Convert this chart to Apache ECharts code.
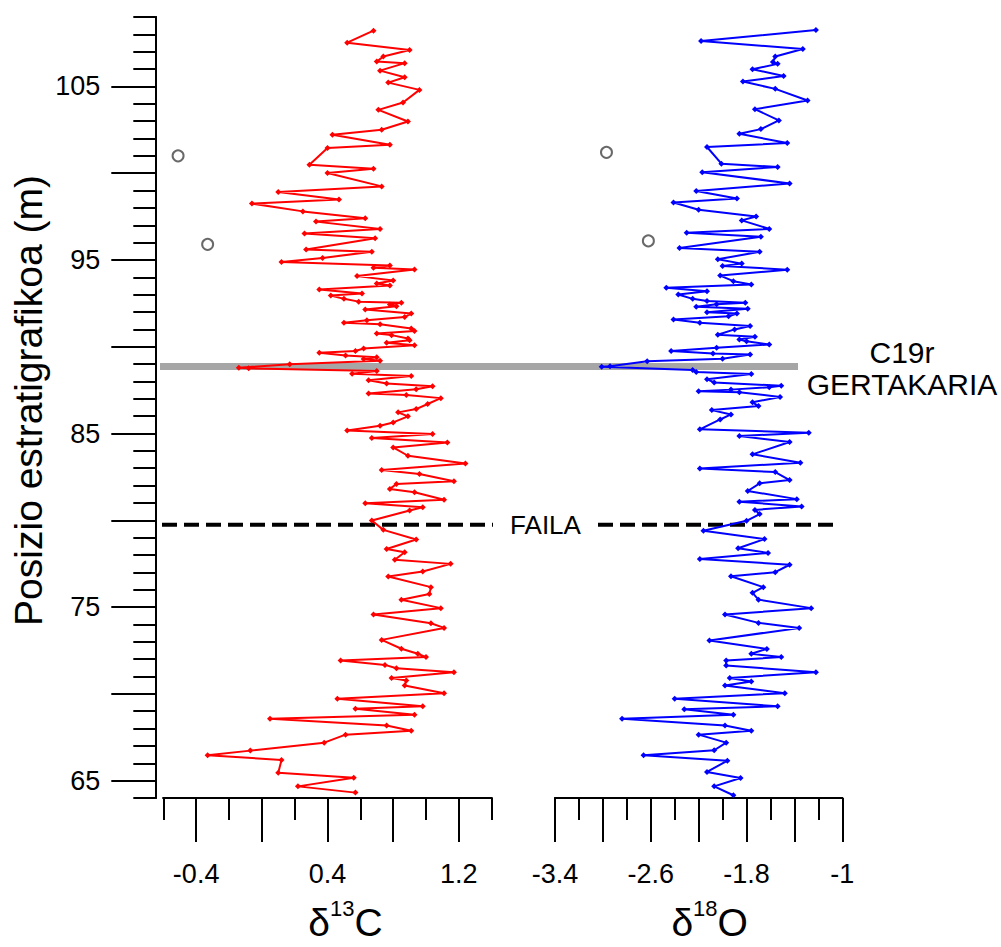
<!DOCTYPE html>
<html><head><meta charset="utf-8">
<script src="https://cdn.jsdelivr.net/npm/echarts@6/dist/echarts.min.js"></script>
<style>html,body{margin:0;padding:0;background:#fff}#c{width:1001px;height:947px}</style>
</head><body><div id="c"></div>
<script>
// ---- data ----
const depthC = [108.21,107.52,107.10,106.72,106.43,106.34,105.91,105.53,105.22,104.80,104.07,103.65,102.98,102.50,102.21,101.64,101.45,100.49,100.26,100.01,99.24,98.92,98.48,98.25,97.80,97.40,97.21,96.79,96.52,96.25,95.60,95.47,95.12,94.89,94.68,94.55,94.45,94.07,93.82,93.65,93.53,93.30,93.07,92.95,92.76,92.60,92.53,92.43,92.33,92.14,91.91,91.71,91.53,91.38,91.30,91.05,90.91,90.76,90.67,90.48,90.38,90.23,90.09,89.90,89.76,89.65,89.50,89.40,89.30,89.20,88.99,88.79,88.76,88.60,88.45,88.32,88.07,87.88,87.72,87.55,87.30,87.22,87.04,86.70,86.41,86.22,85.99,85.64,85.45,85.17,84.97,84.74,84.49,84.20,83.72,83.28,82.90,82.67,82.25,82.09,81.81,81.62,81.18,80.98,80.75,80.57,79.99,79.45,78.89,78.35,78.16,77.73,77.49,77.05,76.76,76.15,75.76,75.42,74.94,74.57,74.07,73.80,73.11,72.60,72.31,72.12,71.92,71.67,71.48,71.25,70.91,70.77,70.48,70.04,69.72,69.28,69.14,68.80,68.57,68.18,67.88,67.65,67.19,66.73,66.46,66.19,65.46,65.17,64.67,64.31];
const valuesC = [0.68,0.52,0.90,0.74,0.70,0.87,0.72,0.87,0.77,0.96,0.86,0.71,0.89,0.73,0.43,0.78,0.40,0.29,0.68,0.40,0.73,0.10,0.47,-0.06,0.25,0.63,0.33,0.72,0.26,0.69,0.27,0.67,0.37,0.12,0.78,0.68,0.93,0.58,0.80,0.70,0.78,0.35,0.61,0.42,0.50,0.59,0.85,0.78,0.82,0.63,0.91,0.87,0.64,0.50,0.72,0.91,0.93,0.70,0.79,0.89,0.90,0.76,0.93,0.62,0.57,0.35,0.51,0.70,0.62,0.72,0.17,-0.14,-0.08,0.70,0.55,0.91,0.65,0.76,1.04,0.94,0.65,0.88,1.09,1.01,0.94,0.83,0.89,0.80,0.72,0.52,1.04,0.67,1.13,0.80,0.89,1.24,0.73,0.96,1.17,0.82,0.78,0.93,1.11,0.63,0.98,0.90,0.67,0.74,0.94,0.76,0.87,0.81,1.15,0.98,0.77,1.03,1.02,0.85,1.09,0.68,1.03,1.11,0.73,0.85,0.95,1.00,0.48,0.75,0.82,1.17,0.79,0.88,0.87,1.11,0.46,0.98,0.57,0.93,0.05,0.76,0.91,0.51,0.38,-0.07,-0.33,0.12,0.10,0.56,0.22,0.57];
const depthO = [108.25,107.62,107.16,106.72,106.40,106.30,105.99,105.60,105.28,104.86,104.19,103.69,103.04,102.54,102.27,101.74,101.51,100.55,100.36,100.06,99.41,98.97,98.54,98.31,97.89,97.51,97.28,96.79,96.57,96.34,95.69,95.47,95.04,94.79,94.66,94.44,94.10,93.78,93.59,93.40,93.20,93.01,92.76,92.63,92.53,92.45,92.30,92.19,91.99,91.92,91.76,91.57,91.38,91.19,91.00,90.69,90.57,90.42,90.32,90.13,89.94,89.75,89.61,89.56,89.31,89.17,88.88,88.85,88.66,88.55,88.43,88.13,87.94,87.75,87.67,87.53,87.43,87.38,87.11,86.80,86.58,86.35,86.10,85.81,85.24,85.05,84.86,84.51,83.80,83.32,82.98,82.78,82.32,82.13,81.69,81.22,81.07,80.80,80.60,80.36,79.97,79.40,78.92,78.39,78.12,77.77,77.44,77.01,76.78,76.15,75.82,75.43,74.94,74.57,74.09,73.80,73.07,72.59,72.31,72.12,71.92,71.63,71.25,70.91,70.71,70.48,70.04,69.72,69.28,69.11,68.80,68.57,68.18,67.88,67.65,67.19,66.75,66.46,66.15,65.50,65.15,64.67,64.16];
const valuesO = [-1.22,-2.18,-1.33,-1.56,-1.58,-1.54,-1.75,-1.49,-1.83,-1.56,-1.29,-1.73,-1.53,-1.68,-1.86,-1.46,-2.13,-2.01,-1.54,-2.17,-1.44,-2.22,-1.88,-2.41,-2.20,-1.72,-1.84,-1.61,-2.30,-1.68,-2.36,-1.69,-2.04,-1.84,-2.00,-1.46,-2.02,-1.91,-1.76,-2.47,-2.13,-2.37,-2.25,-2.13,-1.81,-2.05,-2.22,-1.79,-2.13,-1.88,-1.95,-2.41,-2.19,-1.77,-1.90,-2.04,-1.73,-1.86,-1.80,-1.61,-2.05,-2.43,-2.08,-1.77,-2.00,-2.63,-2.94,-3.01,-2.25,-2.22,-1.76,-2.13,-2.07,-1.51,-1.61,-1.93,-2.20,-1.86,-1.52,-1.75,-1.70,-2.09,-1.93,-2.02,-2.19,-1.28,-1.86,-1.44,-1.75,-1.35,-2.19,-1.56,-1.44,-1.69,-1.79,-1.38,-1.86,-1.34,-1.73,-1.69,-1.80,-2.16,-1.65,-1.87,-1.62,-2.19,-1.44,-1.56,-1.93,-1.66,-1.75,-1.70,-1.26,-1.98,-1.70,-1.36,-2.11,-1.63,-1.76,-1.51,-1.97,-1.97,-1.22,-1.94,-1.76,-1.98,-1.48,-2.40,-1.54,-2.32,-1.91,-2.84,-1.98,-1.76,-2.20,-1.97,-2.07,-2.66,-1.96,-2.13,-1.85,-2.07,-1.91];
const outlierDepthC = [101.0, 95.9];
const outlierValC = [-0.51, -0.33];
const outlierDepthO = [101.2, 96.1];
const outlierValO = [-2.97, -2.62];
const eventDepth = 88.9;
const faultDepth = 79.8;
const eventLabel = 'C19r\nGERTAKARIA';
const faultLabel = 'FAILA';
// ---- ticks / labels ----
const yMinorTicks = [64,65,66,67,68,69,70,71,72,73,74,75,76,77,78,79,80,81,82,83,84,85,86,87,88,89,90,91,92,93,94,95,96,97,98,99,100,101,102,103,104,105,106,107,108,109];
const yMajorTicks = [65,70,75,80,85,90,95,100,105];
const yLabels = [65,75,85,95,105];
const cShortTicks = [-0.6,-0.2,0.2,0.6,1.0,1.4];
const cLongTicks = [-0.4,0,0.4,0.8,1.2];
const cLabels = [-0.4,0.4,1.2];
const oShortTicks = [-3.2,-2.8,-2.4,-2.0,-1.6,-1.2];
const oLongTicks = [-3.4,-3.0,-2.6,-2.2,-1.8,-1.4,-1.0];
const oLabels = [-3.4,-2.6,-1.8,-1.0];

// ---- layout (pixels) ----
const FONT = 'Liberation Sans, Arial, sans-serif';
const TOP = 17, H = 782.5;
const overlayW = 682;               // overlay grid spans 160..842
const bandSpan = [0, 638];
const faultSpans = [[2, 333], [438, 673]];

const chart = echarts.init(document.getElementById('c'), null, {renderer: 'svg'});
const axisLine = {show: true, onZero: false, lineStyle: {color: '#000', width: 2}};
const fmt = v => String(Math.round(v * 10) / 10);
function tickAxis(extra) {
  return Object.assign({
    type: 'value', splitLine: {show: false}, axisLine: axisLine,
  }, extra);
}
const zip = (a, b) => a.map((v, i) => [v, b[i]]);
const titleRich = {
  a: {fontSize: 39, fontFamily: FONT, color: '#000', lineHeight: 46, verticalAlign: 'bottom'},
  s: {fontSize: 22, fontFamily: FONT, color: '#000', lineHeight: 46, verticalAlign: 'top', padding: [1, 0, 0, 0]}
};

chart.setOption({
  animation: false,
  backgroundColor: '#fff',
  textStyle: {fontFamily: FONT},
  grid: [
    {left: 163.3, top: TOP, width: 328.4, height: H},
    {left: 555, top: TOP, width: 287.3, height: H},
    {left: 160, top: TOP, width: overlayW, height: H}
  ],
  xAxis: [
    tickAxis({gridIndex: 0, min: -0.6, max: 1.4, position: 'bottom',
      axisTick: {show: true, customValues: cShortTicks, length: 22, lineStyle: {color: '#000', width: 2}},
      axisLabel: {show: false}}),
    tickAxis({gridIndex: 0, min: -0.6, max: 1.4, position: 'bottom',
      axisTick: {show: true, customValues: cLongTicks, length: 44, lineStyle: {color: '#000', width: 2}},
      axisLabel: {show: true, customValues: cLabels, formatter: fmt, fontSize: 27, color: '#000', margin: 62, fontFamily: FONT},
      name: '{a|δ}{s|13}{a|C}', nameLocation: 'middle', nameGap: 98,
      nameTextStyle: {padding: [0, 0, 0, 36], rich: titleRich}}),
    tickAxis({gridIndex: 1, min: -3.4, max: -1.0, position: 'bottom',
      axisTick: {show: true, customValues: oShortTicks, length: 22, lineStyle: {color: '#000', width: 2}},
      axisLabel: {show: false}}),
    tickAxis({gridIndex: 1, min: -3.4, max: -1.0, position: 'bottom',
      axisTick: {show: true, customValues: oLongTicks, length: 44, lineStyle: {color: '#000', width: 2}},
      axisLabel: {show: true, customValues: oLabels, formatter: fmt, fontSize: 27, color: '#000', margin: 62, fontFamily: FONT},
      name: '{a|δ}{s|18}{a|O}', nameLocation: 'middle', nameGap: 98,
      nameTextStyle: {padding: [0, 0, 0, 22], rich: titleRich}}),
    {type: 'value', gridIndex: 2, min: 0, max: overlayW, show: false}
  ],
  yAxis: [
    tickAxis({gridIndex: 0, min: 64, max: 109, position: 'left', offset: 8,
      axisTick: {show: true, customValues: yMinorTicks, length: 22, lineStyle: {color: '#000', width: 2}},
      axisLabel: {show: false}}),
    tickAxis({gridIndex: 0, min: 64, max: 109, position: 'left', offset: 8,
      axisTick: {show: true, customValues: yMajorTicks, length: 44, lineStyle: {color: '#000', width: 2}},
      axisLabel: {show: true, customValues: yLabels, fontSize: 27, color: '#000', margin: 55, fontFamily: FONT},
      name: 'Posizio estratigrafikoa (m)', nameLocation: 'middle', nameRotate: 90, nameGap: 107,
      nameTextStyle: {fontSize: 39, color: '#000', fontFamily: FONT, padding: [0, 0, 0, 14]}}),
    {type: 'value', gridIndex: 1, min: 64, max: 109, show: false},
    {type: 'value', gridIndex: 2, min: 64, max: 109, show: false}
  ],
  series: [
    {type: 'line', xAxisIndex: 4, yAxisIndex: 3, z: 1, symbol: 'none', silent: true,
      data: [[bandSpan[0], eventDepth], [bandSpan[1], eventDepth]],
      lineStyle: {color: '#a6a6a6', width: 7}},
    {type: 'line', xAxisIndex: 4, yAxisIndex: 3, z: 1, symbol: 'none', silent: true,
      data: [[faultSpans[0][0], faultDepth], [faultSpans[0][1], faultDepth]],
      lineStyle: {color: '#000', width: 4, type: [15, 7]}},
    {type: 'line', xAxisIndex: 4, yAxisIndex: 3, z: 1, symbol: 'none', silent: true,
      data: [[faultSpans[1][0], faultDepth], [faultSpans[1][1], faultDepth]],
      lineStyle: {color: '#000', width: 4, type: [15, 7]}},
    {type: 'line', name: 'd13C', xAxisIndex: 0, yAxisIndex: 0, z: 3,
      data: zip(valuesC, depthC), symbol: 'diamond', symbolSize: 6, showSymbol: true,
      lineStyle: {color: '#ff0000', width: 2}, itemStyle: {color: '#ff0000'}},
    {type: 'line', name: 'd18O', xAxisIndex: 2, yAxisIndex: 2, z: 3,
      data: zip(valuesO, depthO), symbol: 'diamond', symbolSize: 6, showSymbol: true,
      lineStyle: {color: '#0000ff', width: 2}, itemStyle: {color: '#0000ff'}},
    {type: 'scatter', xAxisIndex: 0, yAxisIndex: 0, z: 3, symbol: 'emptyCircle', symbolSize: 11,
      data: zip(outlierValC, outlierDepthC), itemStyle: {color: '#444', borderWidth: 1.2}},
    {type: 'scatter', xAxisIndex: 2, yAxisIndex: 2, z: 3, symbol: 'emptyCircle', symbolSize: 11,
      data: zip(outlierValO, outlierDepthO), itemStyle: {color: '#444', borderWidth: 1.2}}
  ]
});

const yEvent = chart.convertToPixel({gridIndex: 2}, [0, eventDepth])[1];
const yFault = chart.convertToPixel({gridIndex: 2}, [0, faultDepth])[1];
const xText = chart.convertToPixel({gridIndex: 2}, [bandSpan[1], eventDepth])[0];
const xFault = chart.convertToPixel({gridIndex: 2}, [(faultSpans[0][1] + faultSpans[1][0]) / 2, faultDepth])[0];
chart.setOption({graphic: [
  {type: 'text', x: xText + 104, y: yEvent + 2,
    style: {text: eventLabel, align: 'center', verticalAlign: 'middle', fontSize: 30, lineHeight: 32, fontFamily: FONT, fill: '#000'}},
  {type: 'text', x: xFault, y: yFault,
    style: {text: faultLabel, align: 'center', verticalAlign: 'middle', fontSize: 26, fontFamily: FONT, fill: '#000'}}
]});
</script>
</body></html>
